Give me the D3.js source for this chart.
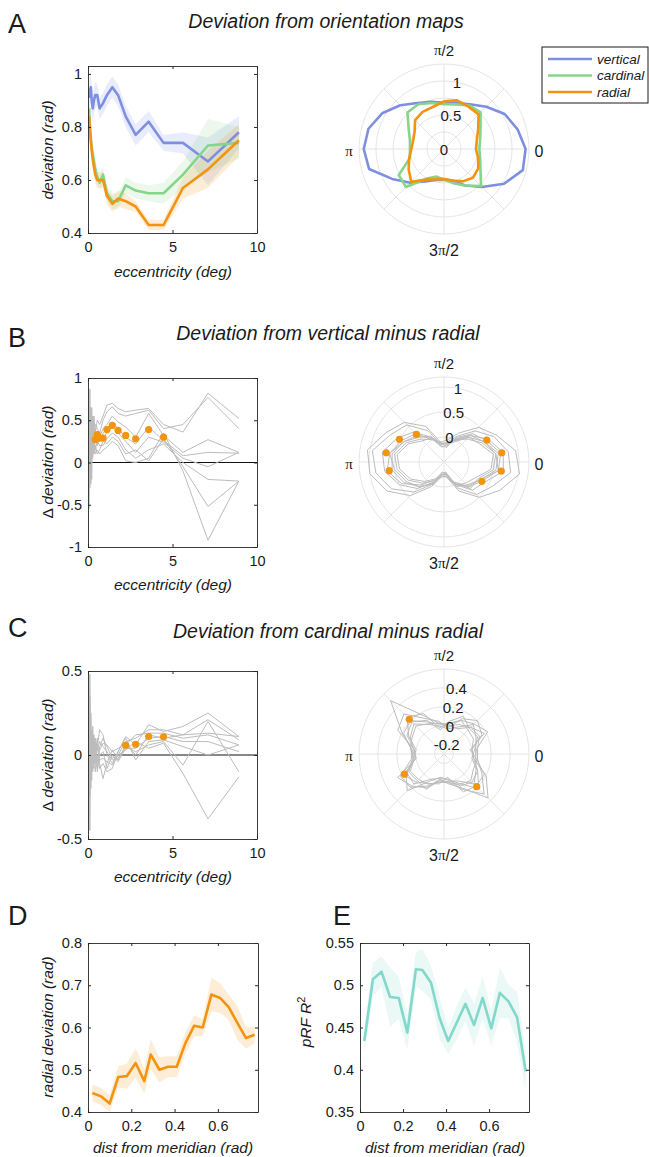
<!DOCTYPE html>
<html>
<head>
<meta charset="utf-8">
<script src="https://d3js.org/d3.v7.min.js"></script>
<style>
  body { margin: 0; background: #fff; }
  text { font-family: "Liberation Sans", Arial, sans-serif; fill: #1a1a1a; }
</style>
</head>
<body>
<svg width="649" height="1157"></svg>
<script>
// ---- data ----
const ecc = [0.07, 0.11, 0.17, 0.22, 0.28, 0.35, 0.43, 0.55, 0.69, 0.89, 1.12, 1.44, 1.78, 2.23, 2.82, 3.59, 4.47, 5.62, 7.10, 8.93];

const vertDev = [0.91, 0.94, 0.95, 0.90, 0.87, 0.90, 0.92, 0.92, 0.87, 0.89, 0.92, 0.95, 0.92, 0.84, 0.77, 0.82, 0.74, 0.74, 0.67, 0.78];
const cardDev = [0.87, 0.80, 0.75, 0.72, 0.70, 0.67, 0.64, 0.61, 0.59, 0.62, 0.55, 0.52, 0.52, 0.58, 0.56, 0.55, 0.55, 0.62, 0.73, 0.74];
const radDev  = [0.84, 0.80, 0.75, 0.71, 0.68, 0.65, 0.62, 0.60, 0.60, 0.60, 0.54, 0.51, 0.53, 0.52, 0.50, 0.43, 0.43, 0.57, 0.64, 0.75];
const vertErr = [0.06, 0.06, 0.06, 0.05, 0.05, 0.05, 0.05, 0.04, 0.04, 0.04, 0.04, 0.04, 0.04, 0.04, 0.04, 0.04, 0.03, 0.04, 0.09, 0.06];
const cardErr = [0.05, 0.05, 0.05, 0.04, 0.04, 0.04, 0.04, 0.03, 0.03, 0.03, 0.03, 0.03, 0.03, 0.03, 0.03, 0.03, 0.04, 0.05, 0.10, 0.06];
const radErr  = [0.04, 0.04, 0.04, 0.04, 0.03, 0.03, 0.03, 0.03, 0.03, 0.03, 0.03, 0.03, 0.03, 0.03, 0.02, 0.02, 0.02, 0.04, 0.07, 0.06];

const thetaA = [0, 15, 30, 45, 60, 75, 90, 105, 120, 135, 150, 165, 180, 195, 210, 225, 240, 255, 270, 285, 300, 315, 330, 345];
const vertPolar = [1.20, 1.12, 1.03, 0.88, 0.76, 0.70, 0.68, 0.72, 0.78, 0.91, 1.05, 1.15, 1.18, 1.14, 0.88, 0.70, 0.55, 0.47, 0.45, 0.48, 0.62, 0.79, 1.02, 1.20];
const cardPolar = [0.52, 0.55, 0.62, 0.76, 0.74, 0.68, 0.66, 0.70, 0.76, 0.76, 0.60, 0.52, 0.50, 0.52, 0.77, 0.79, 0.50, 0.42, 0.45, 0.52, 0.62, 0.77, 0.62, 0.55];
const radPolar  = [0.47, 0.50, 0.58, 0.72, 0.72, 0.74, 0.70, 0.64, 0.63, 0.60, 0.50, 0.47, 0.48, 0.53, 0.60, 0.68, 0.52, 0.46, 0.44, 0.48, 0.55, 0.60, 0.58, 0.52];

// vertical minus radial, per subject, vs eccentricity
const vmrSubjects = [
  [0.30, 0.87, 0.05, 0.65, 0.20, 0.55, 0.35, 0.50, 0.45, 0.55, 0.68, 0.70, 0.64, 0.60, 0.62, 0.64, 0.45, 0.36, 0.82, 0.52],
  [-0.10, 0.50, 0.60, 0.20, 0.55, 0.30, 0.45, 0.40, 0.35, 0.50, 0.60, 0.66, 0.58, 0.55, 0.58, 0.62, 0.40, 0.45, 0.77, 0.40],
  [0.40, -0.30, 0.65, 0.30, 0.40, 0.20, 0.30, 0.35, 0.30, 0.40, 0.45, 0.55, 0.48, 0.42, 0.30, 0.58, 0.32, 0.12, 0.27, 0.12],
  [-0.55, 0.60, -0.05, 0.55, 0.10, 0.45, 0.25, 0.30, 0.25, 0.35, 0.40, 0.48, 0.40, 0.30, 0.22, 0.42, 0.26, 0.08, 0.12, 0.11],
  [0.50, 0.10, 0.45, -0.20, 0.50, 0.25, 0.40, 0.20, 0.30, 0.30, 0.35, 0.42, 0.35, 0.25, 0.12, 0.30, 0.24, 0.05, -0.05, 0.12],
  [0.20, 0.45, -0.25, 0.40, 0.15, 0.35, 0.15, 0.25, 0.20, 0.20, 0.28, 0.35, 0.30, 0.15, 0.05, 0.15, 0.22, 0.00, -0.20, -0.22],
  [0.00, 0.30, 0.55, 0.05, 0.35, 0.10, 0.20, 0.10, 0.15, 0.25, 0.22, 0.30, 0.25, 0.10, 0.15, 0.02, 0.28, -0.05, -0.52, -0.22],
  [0.65, -0.15, 0.25, 0.45, 0.05, 0.30, 0.10, 0.15, 0.10, 0.15, 0.18, 0.25, 0.20, 0.02, 0.00, 0.05, 0.35, -0.10, -0.92, -0.22]
];
const vmrSigEcc = [0.43, 0.55, 0.69, 0.89, 1.12, 1.44, 1.78, 2.23, 2.82, 3.59, 4.47];
const vmrSigVal = [0.27, 0.33, 0.29, 0.29, 0.39, 0.44, 0.38, 0.32, 0.28, 0.39, 0.30];

// cardinal minus radial, per subject, vs eccentricity
const cmrSubjects = [
  [0.10, 0.48, -0.20, 0.15, -0.05, 0.12, -0.10, 0.05, 0.15, 0.12, 0.00, -0.05, 0.02, 0.11, 0.06, 0.18, 0.14, 0.17, 0.25, 0.11],
  [-0.10, 0.35, 0.10, -0.15, 0.17, -0.05, 0.08, -0.08, 0.05, 0.10, 0.05, -0.02, 0.00, 0.08, 0.10, 0.15, 0.15, 0.12, 0.21, 0.09],
  [0.05, -0.45, 0.25, 0.05, -0.10, 0.10, 0.00, 0.10, -0.05, -0.14, -0.05, 0.03, -0.03, 0.06, 0.12, 0.13, 0.13, 0.10, 0.12, 0.06],
  [-0.20, 0.20, -0.10, 0.10, 0.00, -0.05, 0.05, -0.10, 0.00, 0.02, -0.08, 0.00, -0.04, 0.04, 0.04, 0.10, 0.11, 0.08, 0.08, 0.02],
  [0.15, -0.10, 0.05, -0.05, 0.12, 0.02, -0.05, 0.00, -0.08, -0.05, -0.10, -0.08, 0.02, 0.10, -0.03, 0.08, 0.09, 0.05, 0.00, 0.06],
  [0.00, 0.15, -0.15, 0.08, -0.02, -0.08, 0.10, 0.03, 0.08, 0.05, 0.02, -0.03, -0.02, 0.05, 0.02, 0.06, 0.08, -0.06, 0.20, -0.10],
  [-0.05, 0.05, 0.12, -0.10, 0.05, 0.06, -0.03, 0.06, -0.03, -0.02, -0.04, -0.06, 0.00, 0.03, 0.08, 0.04, 0.07, -0.11, -0.38, -0.13],
  [0.08, -0.25, 0.00, 0.03, -0.08, -0.02, 0.04, -0.04, 0.03, 0.07, 0.06, 0.02, 0.04, 0.07, 0.00, 0.12, 0.10, 0.12, 0.13, 0.11]
];
const cmrSigEcc = [2.23, 2.82, 3.59, 4.47];
const cmrSigVal = [0.058, 0.064, 0.11, 0.108];

// polar angle bins (deg)
const thetaBins = [9, 27, 45, 63, 81, 99, 117, 135, 153, 171, 189, 207, 225, 243, 261, 279, 297, 315, 333, 351];
const vmrPolar = [
  [0.95, 0.68, 0.48, 0.15, -0.05, -0.10, 0.30, 0.62, 0.80, 1.05, 1.00, 0.78, 0.45, 0.05, -0.20, -0.20, 0.15, 0.50, 0.75, 1.03],
  [0.80, 0.62, 0.38, 0.08, -0.10, -0.15, 0.20, 0.55, 0.70, 0.95, 0.88, 0.68, 0.35, 0.00, -0.25, -0.25, 0.08, 0.42, 0.58, 0.85],
  [0.70, 0.50, 0.25, 0.00, -0.12, -0.12, 0.05, 0.35, 0.55, 0.75, 0.70, 0.50, 0.25, -0.05, -0.22, -0.30, 0.00, 0.30, 0.40, 0.70],
  [0.65, 0.45, 0.30, 0.05, -0.20, -0.18, 0.00, 0.30, 0.45, 0.60, 0.65, 0.45, 0.15, -0.10, -0.30, -0.25, -0.05, 0.20, 0.35, 0.60],
  [0.60, 0.40, 0.20, -0.05, -0.15, -0.20, 0.08, 0.20, 0.40, 0.55, 0.55, 0.40, 0.20, 0.00, -0.28, -0.28, 0.05, 0.15, 0.30, 0.55],
  [0.55, 0.35, 0.15, 0.00, -0.18, -0.10, 0.00, 0.15, 0.35, 0.50, 0.45, 0.30, 0.10, -0.08, -0.20, -0.22, -0.02, 0.25, 0.25, 0.50],
  [0.50, 0.30, 0.20, -0.02, -0.10, -0.15, 0.05, 0.10, 0.30, 0.45, 0.40, 0.25, 0.05, -0.12, -0.25, -0.20, 0.02, 0.10, 0.20, 0.45],
  [0.55, 0.40, 0.25, 0.02, -0.14, -0.12, 0.02, 0.25, 0.40, 0.60, 0.50, 0.35, 0.20, -0.02, -0.24, -0.26, 0.00, 0.18, 0.30, 0.60]
];
const vmrPolarSigTheta = [9, 27, 135, 153, 171, 189, 333, 351];
const vmrPolarSigVal = [0.67, 0.46, 0.28, 0.50, 0.67, 0.61, 0.35, 0.66];

const cmrPolar = [
  [0.05, 0.22, 0.15, 0.10, 0.02, 0.03, 0.15, 0.50, 0.20, 0.05, 0.05, 0.22, 0.20, 0.08, 0.00, 0.00, 0.12, 0.30, 0.15, 0.06],
  [0.00, 0.15, 0.20, 0.12, -0.02, 0.05, 0.12, 0.30, 0.25, 0.02, 0.00, 0.25, 0.18, 0.10, -0.03, 0.02, 0.10, 0.36, 0.20, 0.02],
  [0.03, 0.10, 0.08, 0.15, 0.05, -0.02, 0.18, 0.25, 0.12, 0.00, 0.03, 0.15, 0.25, 0.02, -0.05, -0.03, 0.05, 0.22, 0.10, 0.00],
  [-0.02, 0.18, 0.10, 0.05, 0.00, 0.02, 0.08, 0.20, 0.18, 0.05, 0.00, 0.18, 0.12, 0.05, 0.02, -0.05, 0.15, 0.18, 0.18, 0.05],
  [0.04, 0.08, 0.14, 0.02, -0.03, 0.00, 0.05, 0.15, 0.10, 0.03, 0.04, 0.12, 0.10, 0.12, -0.02, 0.00, 0.02, 0.15, 0.08, 0.04],
  [0.00, 0.05, 0.06, 0.10, 0.03, -0.04, 0.10, 0.18, 0.14, 0.02, 0.01, 0.14, 0.15, 0.00, -0.04, -0.02, 0.08, 0.12, 0.10, 0.02],
  [0.06, 0.12, 0.10, 0.00, 0.01, 0.03, 0.06, 0.12, 0.08, 0.06, 0.02, 0.10, 0.08, 0.06, 0.00, 0.01, 0.06, 0.10, 0.05, 0.06]
];
const cmrPolarSigTheta = [135, 207, 315];
const cmrPolarSigVal = [0.22, 0.17, 0.19];

// distance from meridian
const dist = [0.02, 0.06, 0.10, 0.14, 0.18, 0.22, 0.26, 0.29, 0.33, 0.37, 0.41, 0.45, 0.49, 0.53, 0.57, 0.61, 0.65, 0.69, 0.73, 0.77];
const radByDist = [0.445, 0.437, 0.420, 0.483, 0.485, 0.516, 0.473, 0.536, 0.500, 0.507, 0.507, 0.563, 0.604, 0.600, 0.678, 0.670, 0.648, 0.611, 0.575, 0.583];
const radByDistErr = [0.02, 0.02, 0.02, 0.025, 0.03, 0.035, 0.03, 0.035, 0.03, 0.025, 0.025, 0.025, 0.025, 0.02, 0.04, 0.035, 0.03, 0.04, 0.025, 0.02];
const r2ByDist = [0.434, 0.507, 0.516, 0.486, 0.485, 0.444, 0.519, 0.518, 0.503, 0.461, 0.434, 0.456, 0.478, 0.453, 0.485, 0.449, 0.491, 0.481, 0.462, 0.398];
const r2ByDistErr = [0.015, 0.02, 0.018, 0.035, 0.025, 0.02, 0.02, 0.025, 0.02, 0.025, 0.015, 0.02, 0.02, 0.025, 0.025, 0.02, 0.03, 0.02, 0.03, 0.022];

const eccTicks = [0, 5, 10];
const distTicks = [0, 0.2, 0.4, 0.6];

// ---- drawing ----
const svg = d3.select('svg');
const C = { vert: '#7f8fe0', card: '#86d58a', rad: '#f29410', teal: '#82d8ca', gray: '#bcbcbc', grid: '#e2e2e2', ax: '#262626' };
const FONT = '"Liberation Sans", Arial, sans-serif';
const LABEL = 15.5;

function text(x, y, str, opts = {}) {
  return svg.append('text').attr('x', x).attr('y', y)
    .attr('font-size', opts.size || LABEL)
    .attr('text-anchor', opts.anchor || 'start')
    .attr('font-style', opts.italic ? 'italic' : 'normal')
    .text(str);
}

function cartAxes(left, top, w, h, xDom, yDom, xTicks, yTicks) {
  const g = svg.append('g').attr('transform', `translate(${left},${top})`);
  const x = d3.scaleLinear().domain(xDom).range([0, w]);
  const y = d3.scaleLinear().domain(yDom).range([h, 0]);
  const fmt = d => String(d);
  const style = sel => {
    sel.select('.domain').attr('stroke', C.ax).attr('stroke-width', 0.9);
    sel.selectAll('.tick line').attr('stroke', C.ax);
    sel.selectAll('.tick text').attr('font-size', 14.5).attr('font-family', FONT).attr('fill', '#1a1a1a');
  };
  const dataG = g.append('g');
  g.append('g').call(d3.axisLeft(y).tickValues(yTicks).tickSize(-3).tickSizeOuter(0).tickPadding(6).tickFormat(fmt)).call(style);
  g.append('g').attr('transform', `translate(${w},0)`)
    .call(d3.axisRight(y).tickValues(yTicks).tickSize(-3).tickSizeOuter(0).tickFormat('')).call(style);
  g.append('g').attr('transform', `translate(0,${h})`)
    .call(d3.axisBottom(x).tickValues(xTicks).tickSize(-3).tickSizeOuter(0).tickPadding(9).tickFormat(fmt)).call(style);
  g.append('g').call(d3.axisTop(x).tickValues(xTicks).tickSize(-3).tickSizeOuter(0).tickFormat('')).call(style);
  return { g: dataG, x, y };
}

function band(ax, xs, ys, es, color) {
  const area = d3.area().x((d, i) => ax.x(xs[i])).y0((d, i) => ax.y(ys[i] - es[i])).y1((d, i) => ax.y(ys[i] + es[i]));
  ax.g.append('path').attr('d', area(ys)).attr('fill', color).attr('fill-opacity', 0.17);
}
function line(ax, xs, ys, color, width) {
  const l = d3.line().x((d, i) => ax.x(xs[i])).y(d => ax.y(d));
  ax.g.append('path').attr('d', l(ys)).attr('fill', 'none').attr('stroke', color)
    .attr('stroke-width', width).attr('stroke-linejoin', 'round');
}
function dots(ax, xs, ys) {
  ax.g.selectAll(null).data(ys).enter().append('circle')
    .attr('cx', (d, i) => ax.x(xs[i])).attr('cy', d => ax.y(d)).attr('r', 3.6).attr('fill', C.rad);
}

function polarAxes(cx, cy, R, rDom, rings, rLabels) {
  const g = svg.append('g').attr('transform', `translate(${cx},${cy})`);
  const r = d3.scaleLinear().domain(rDom).range([0, R]).clamp(true);
  const grid = g.append('g');
  rings.forEach(v => grid.append('circle').attr('r', r(v)).attr('fill', 'none').attr('stroke', C.grid).attr('stroke-width', 0.9));
  grid.append('circle').attr('r', R).attr('fill', 'none').attr('stroke', C.grid).attr('stroke-width', 0.9);
  [0, 45, 90, 135].forEach(a => {
    const t = a * Math.PI / 180;
    grid.append('line').attr('x1', -R * Math.cos(t)).attr('y1', R * Math.sin(t))
      .attr('x2', R * Math.cos(t)).attr('y2', -R * Math.sin(t)).attr('stroke', C.grid).attr('stroke-width', 0.9);
  });
  const dataG = g.append('g');
  const lab = g.append('g');
  const a80 = 80 * Math.PI / 180;
  rLabels.forEach(v => {
    lab.append('text').attr('x', r(v) * Math.cos(a80) + (v === rDom[0] ? 0 : 1)).attr('y', -r(v) * Math.sin(a80))
      .attr('text-anchor', 'middle').attr('dominant-baseline', 'central').attr('font-size', 15).text(String(v));
  });
  const pi = (sel, pre, post) => {
    if (pre) sel.append('tspan').text(pre);
    sel.append('tspan').attr('font-family', '"Liberation Serif", serif').attr('font-size', 15).text('π');
    if (post) sel.append('tspan').text(post);
  };
  pi(lab.append('text').attr('x', 0).attr('y', -R - 14).attr('text-anchor', 'middle').attr('dominant-baseline', 'central').attr('font-size', 15), '', '/2');
  pi(lab.append('text').attr('x', 0).attr('y', R + 16).attr('text-anchor', 'middle').attr('dominant-baseline', 'central').attr('font-size', 16), '3', '/2');
  pi(lab.append('text').attr('x', -R - 10).attr('y', 2).attr('text-anchor', 'middle').attr('dominant-baseline', 'central'), '', '');
  lab.append('text').attr('x', R + 10).attr('y', 2).attr('text-anchor', 'middle').attr('dominant-baseline', 'central').attr('font-size', 16).text('0');
  return { g: dataG, r };
}
function polarLine(ax, thetas, vals, color, width) {
  const l = d3.lineRadial().angle((d, i) => Math.PI / 2 - thetas[i] * Math.PI / 180).radius(d => ax.r(d)).curve(d3.curveLinearClosed);
  ax.g.append('path').attr('d', l(vals)).attr('fill', 'none').attr('stroke', color).attr('stroke-width', width).attr('stroke-linejoin', 'round');
}
function polarDots(ax, thetas, vals) {
  ax.g.selectAll(null).data(vals).enter().append('circle')
    .attr('cx', (d, i) => ax.r(d) * Math.cos(thetas[i] * Math.PI / 180))
    .attr('cy', (d, i) => -ax.r(d) * Math.sin(thetas[i] * Math.PI / 180))
    .attr('r', 3.6).attr('fill', C.rad);
}
function yLabel(x, y, parts) {
  const t = svg.append('text').attr('transform', `translate(${x},${y}) rotate(-90)`).attr('text-anchor', 'middle').attr('font-size', LABEL);
  parts.forEach(p => {
    const s = t.append('tspan').attr('font-style', p.italic ? 'italic' : 'normal').text(p.t);
    if (p.sup) s.attr('baseline-shift', 'super').attr('font-size', 11);
  });
  return t;
}

// ---- panel A ----
text(8, 33, 'A', { size: 27 });
text(326, 28, 'Deviation from orientation maps', { size: 19.5, anchor: 'middle', italic: true });
const aA = cartAxes(88, 66, 169, 167, [0, 10], [0.4, 1.03], eccTicks, [0.4, 0.6, 0.8, 1]);
band(aA, ecc, vertDev, vertErr, C.vert);
band(aA, ecc, cardDev, cardErr, C.card);
band(aA, ecc, radDev, radErr, C.rad);
line(aA, ecc, vertDev, C.vert, 2.6);
line(aA, ecc, cardDev, C.card, 2.6);
line(aA, ecc, radDev, C.rad, 2.6);
yLabel(53, 150, [{ t: 'deviation (rad)', italic: true }]);
text(173, 277, 'eccentricity (deg)', { anchor: 'middle', italic: true });

const pA = polarAxes(444, 149, 85, [0, 1.25], [0.25, 0.5, 0.75, 1], [0, 0.5, 1]);
polarLine(pA, thetaA, vertPolar, C.vert, 2.6);
polarLine(pA, thetaA, cardPolar, C.card, 2.6);
polarLine(pA, thetaA, radPolar, C.rad, 2.6);

// legend
const leg = svg.append('g');
leg.append('rect').attr('x', 542).attr('y', 47).attr('width', 106).attr('height', 56).attr('fill', '#fff').attr('stroke', '#1a1a1a').attr('stroke-width', 1);
[['vertical', C.vert], ['cardinal', C.card], ['radial', C.rad]].forEach((d, i) => {
  const yy = 59 + i * 16.5;
  leg.append('line').attr('x1', 548).attr('x2', 592).attr('y1', yy).attr('y2', yy).attr('stroke', d[1]).attr('stroke-width', 2.6);
  leg.append('text').attr('x', 597).attr('y', yy).attr('dominant-baseline', 'central').attr('font-size', 13.5).attr('font-style', 'italic').text(d[0]);
});

// ---- panel B ----
text(8, 347, 'B', { size: 27 });
text(328, 340, 'Deviation from vertical minus radial', { size: 19.5, anchor: 'middle', italic: true });
const aB = cartAxes(88, 378, 169, 169, [0, 10], [-1, 1], eccTicks, [-1, -0.5, 0, 0.5, 1]);
aB.g.append('line').attr('x1', 0).attr('x2', 169).attr('y1', aB.y(0)).attr('y2', aB.y(0)).attr('stroke', '#111').attr('stroke-width', 1);
vmrSubjects.forEach(s => line(aB, ecc, s, C.gray, 1));
dots(aB, vmrSigEcc, vmrSigVal);
yLabel(53, 462, [{ t: 'Δ ', italic: false }, { t: 'deviation (rad)', italic: true }]);
text(173, 590, 'eccentricity (deg)', { anchor: 'middle', italic: true });

const pB = polarAxes(444, 462, 85, [-0.5, 1.2], [0, 0.5, 1], [0, 0.5, 1]);
vmrPolar.forEach(s => polarLine(pB, thetaBins, s, C.gray, 1));
polarDots(pB, vmrPolarSigTheta, vmrPolarSigVal);

// ---- panel C ----
text(8, 637, 'C', { size: 27 });
text(328, 638, 'Deviation from cardinal minus radial', { size: 19.5, anchor: 'middle', italic: true });
const aC = cartAxes(88, 671, 169, 168, [0, 10], [-0.5, 0.5], eccTicks, [-0.5, 0, 0.5]);
aC.g.append('line').attr('x1', 0).attr('x2', 169).attr('y1', aC.y(0)).attr('y2', aC.y(0)).attr('stroke', '#111').attr('stroke-width', 1);
cmrSubjects.forEach(s => line(aC, ecc, s, C.gray, 1));
dots(aC, cmrSigEcc, cmrSigVal);
yLabel(53, 755, [{ t: 'Δ ', italic: false }, { t: 'deviation (rad)', italic: true }]);
text(173, 882, 'eccentricity (deg)', { anchor: 'middle', italic: true });

const pC = polarAxes(444, 754, 85, [-0.3, 0.6], [-0.2, 0, 0.2, 0.4], [-0.2, 0, 0.2, 0.4]);
cmrPolar.forEach(s => polarLine(pC, thetaBins, s, C.gray, 1));
polarDots(pC, cmrPolarSigTheta, cmrPolarSigVal);

// ---- panel D ----
text(8, 925, 'D', { size: 27 });
const aD = cartAxes(88, 943, 170, 169, [0, Math.PI / 4], [0.4, 0.8], distTicks, [0.4, 0.5, 0.6, 0.7, 0.8]);
band(aD, dist, radByDist, radByDistErr, C.rad);
line(aD, dist, radByDist, C.rad, 2.6);
yLabel(53, 1027, [{ t: 'radial deviation (rad)', italic: true }]);
text(173, 1153, 'dist from meridian (rad)', { anchor: 'middle', italic: true });

// ---- panel E ----
text(333, 925, 'E', { size: 27 });
const aE = cartAxes(360, 943, 169, 169, [0, Math.PI / 4], [0.35, 0.55], distTicks, [0.35, 0.4, 0.45, 0.5, 0.55]);
band(aE, dist, r2ByDist, r2ByDistErr, C.teal);
line(aE, dist, r2ByDist, C.teal, 2.6);
yLabel(311, 1022, [{ t: 'pRF R', italic: true }, { t: '2', italic: false, sup: true }]);
text(445, 1153, 'dist from meridian (rad)', { anchor: 'middle', italic: true });
</script>
</body>
</html>
